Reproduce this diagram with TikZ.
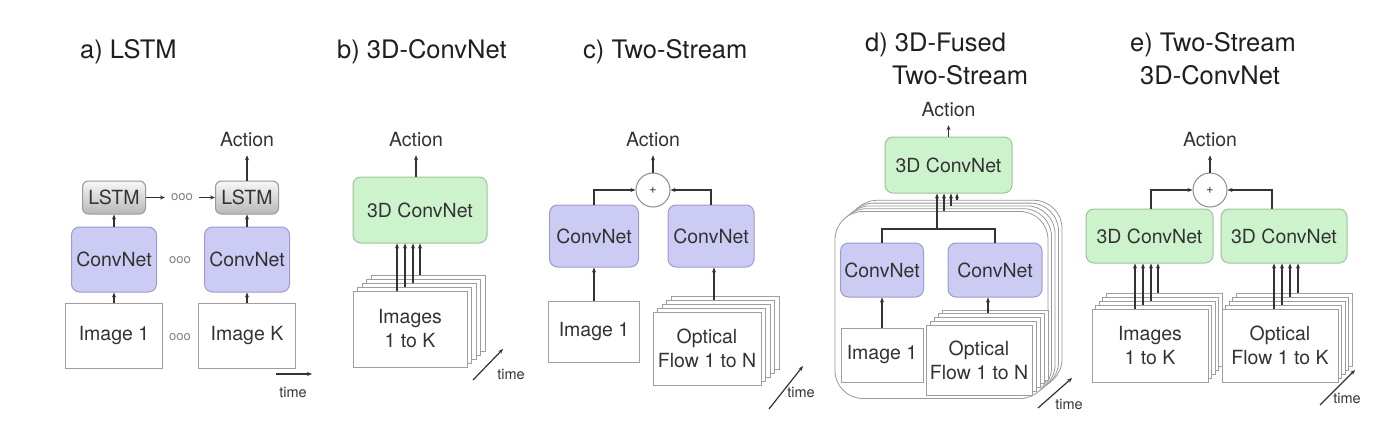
\documentclass[tikz,border=0pt]{standalone}
\usepackage{fontspec}
\setmainfont{TeX Gyre Heros}
\usepackage{xcolor}
\usepackage{tikz}
\usetikzlibrary{arrows.meta, calc}

\definecolor{cnnfill}{HTML}{CBCBF4}
\definecolor{cnnline}{HTML}{9C9CCC}
\definecolor{dfill}{HTML}{CDF3CD}
\definecolor{dline}{HTML}{9CC29C}
\definecolor{ink}{HTML}{333333}

\begin{document}
\begin{tikzpicture}[
      x = 1pt, y = -1pt,
      txt/.style     = {font = \fontsize{19.5}{24}\selectfont, text = ink, align = center},
      cnn/.style     = {txt, draw = cnnline, fill = cnnfill, rounded corners = 8pt, line width = 1pt, inner sep = 0pt},
      net3d/.style   = {txt, draw = dline, fill = dfill, rounded corners = 8pt, line width = 1pt, inner sep = 0pt},
      lstmbox/.style = {txt, draw = black!40, top color = black!3, bottom color = black!28, rounded corners = 6pt, line width = 1pt, inner sep = 0pt},
      page/.style    = {txt, draw = black!38, fill = white, line width = 1pt, inner sep = 0pt},
      bigpage/.style = {draw = black!40, fill = white, line width = .8pt, rounded corners = 28pt, inner sep = 0pt},
      plus/.style    = {circle, draw = black!45, fill = white, line width = 1pt, minimum size = 34pt, inner sep = 0pt, font = \fontsize{13}{13}\selectfont, text = ink},
      arr/.style     = {-{Stealth[length = 5pt, width = 4pt]}, line width = 1.2pt, draw = ink},
      link/.style    = {line width = 1.2pt, draw = ink},
      act/.style     = {font = \fontsize{19.5}{23}\selectfont, text = ink, inner sep = 1pt, outer ysep = 7pt},
      dots/.style    = {font = \fontsize{13}{13}\selectfont, text = black!50, inner xsep = 6pt},
      tlabel/.style  = {font = \fontsize{14.5}{17}\selectfont, text = ink, inner sep = 0pt},
      title/.style   = {font = \fontsize{25.5}{30}\selectfont, text = black!88, anchor = west, inner sep = 0pt}
    ]
  \useasboundingbox (0,0) rectangle (1393,432);

  % ---------- (a) LSTM ---------------------------------------------------
  \node[title] (ttla) at (80,52) {a) LSTM};

  \node[lstmbox, minimum width = 63pt, minimum height = 33pt] (lstm1) at (114,197.5) {LSTM};
  \node[lstmbox, minimum width = 63pt, minimum height = 33pt] (lstm2) at (247,197.5) {LSTM};
  \node[dots] (adots1) at (182,197.5) {ooo};
  \node[cnn, minimum width = 85pt, minimum height = 65pt] (acn1) at (114,259.5) {ConvNet};
  \node[cnn, minimum width = 85pt, minimum height = 65pt] (acn2) at (247,259.5) {ConvNet};
  \node[dots] (adots2) at (180,260) {ooo};
  \node[page, minimum width = 97pt, minimum height = 65pt] (aimg1) at (114,335.5) {Image 1};
  \node[page, minimum width = 97pt, minimum height = 65pt] (aimgk) at (247,335.5) {Image K};
  \node[dots] (adots3) at (180,337) {ooo};
  \node[act] (aact) at (247,140) {Action};

  \draw[arr] (aimg1) -- (acn1);
  \draw[arr] (acn1) -- (lstm1);
  \draw[arr] (aimgk) -- (acn2);
  \draw[arr] (acn2) -- (lstm2);
  \draw[arr] (lstm1) -- (adots1);
  \draw[arr] (adots1) -- (lstm2);
  \draw[arr] (lstm2) -- (aact);

  \coordinate (at0) at (276,374);
  \coordinate (at1) at (312,374);
  \draw[arr] (at0) -- (at1);
  \node[tlabel] (atime) at (293,392) {time};

  % ---------- (b) 3D-ConvNet ---------------------------------------------
  \node[title] (ttlb) at (337,52) {b) 3D-ConvNet};

  \node[net3d, minimum width = 134pt, minimum height = 66pt] (bnet) at (420,210) {3D ConvNet};
  \node[act] (bact) at (416,140) {Action};
  \draw[arr] (bact |- bnet.north) -- (bact);

  \foreach \k in {4,...,1}
    \node[page, minimum width = 114pt, minimum height = 76pt] (bimg\k) at ({410+4.5*\k},{329-4*\k}) {};
  \node[page, minimum width = 114pt, minimum height = 76pt] (bimg0) at (410,329) {Images\\1 to K};

  \foreach \s/\dx in {0/-23, 1/-15, 2/-7, 4/0}
    \draw[arr] ($(bnet.south |- bimg\s.north) + (\dx,0)$) -- ($(bnet.south) + (\dx,0)$);

  \coordinate (bt0) at (473,380);
  \coordinate (bt1) at (503,349);
  \draw[arr] (bt0) -- (bt1);
  \node[tlabel] (btime) at (511,374) {time};

  % ---------- (c) Two-Stream ---------------------------------------------
  \node[title] (ttlc) at (583,52) {c) Two-Stream};

  \node[plus] (cplus) at (653,190) {+};
  \node[act] (cact) at (653,140) {Action};
  \draw[arr] (cplus) -- (cact);

  \node[cnn, minimum width = 89pt, minimum height = 62pt] (ccn1) at (594,236) {ConvNet};
  \node[cnn, minimum width = 86pt, minimum height = 62pt] (ccn2) at (711,236) {ConvNet};
  \draw[arr] (ccn1.north) |- (cplus);
  \draw[arr] (ccn2.north) |- (cplus);

  \node[page, minimum width = 91pt, minimum height = 61pt] (cimg) at (594,331.5) {Image 1};
  \foreach \k in {4,...,1}
    \node[page, minimum width = 108pt, minimum height = 73pt] (cof\k) at ({707+4.5*\k},{348.5-4*\k}) {};
  \node[page, minimum width = 108pt, minimum height = 73pt] (cof0) at (707,348.5) {Optical\\Flow 1 to N};

  \draw[arr] (cimg) -- (ccn1);
  \draw[arr] ($(ccn2.south |- cof3.north)+(3,0)$) -- ($(ccn2.south)+(3,0)$);

  \coordinate (ct0) at (769,409);
  \coordinate (ct1) at (803,366);
  \draw[arr] (ct0) -- (ct1);
  \node[tlabel] (ctime) at (801,392) {time};

  % ---------- (d) 3D-Fused Two-Stream ------------------------------------
  \node[title] (ttld1) at (865,45) {d) 3D-Fused};
  \node[title] (ttld2) at (892,75) {Two-Stream};

  \foreach \k in {4,...,1}
    \node[bigpage, minimum width = 213pt, minimum height = 187pt] (dbig\k) at ({941.5+3.5*\k},{305-2.8*\k}) {};
  \node[bigpage, minimum width = 213pt, minimum height = 187pt] (dbig0) at (941.5,305) {};

  \node[net3d, minimum width = 127pt, minimum height = 56pt] (dnet) at (948.5,165) {3D ConvNet};
  \node[act] (dact) at (948.5,110) {Action};
  \draw[arr] (dnet) -- (dact);

  \node[cnn, minimum width = 83pt, minimum height = 54pt] (dcn1) at (882,270) {ConvNet};
  \node[cnn, minimum width = 94pt, minimum height = 54pt] (dcn2) at (995,270) {ConvNet};
  \node[page, minimum width = 82pt, minimum height = 54pt] (dimg) at (882,355) {Image 1};
  \foreach \k in {4,...,1}
    \node[page, minimum width = 106pt, minimum height = 70pt] (dof\k) at ({979+4*\k},{360-3.7*\k}) {};
  \node[page, minimum width = 106pt, minimum height = 70pt] (dof0) at (979,360) {Optical\\Flow 1 to N};

  \draw[arr] (dimg) -- (dcn1);
  \draw[arr] ($(dcn2.south |- dof3.north)+(-7,0)$) -- ($(dcn2.south)+(-7,0)$);

  \coordinate (dmid) at (937,229);
  \draw[link] (dcn1.north) |- (dmid) -| (dcn2.north);
  \draw[arr] (dmid) -- (dnet.south -| dmid);
  \foreach \s/\dx in {0/-4.5, 2/2.5, 4/8.5}
    \draw[arr] ($(dnet.south |- dbig\s.north) + (\dx,0)$) -- ($(dnet.south) + (\dx,0)$);

  \coordinate (dt0) at (1038,408);
  \coordinate (dt1) at (1072,378);
  \draw[arr] (dt0) -- (dt1);
  \node[tlabel] (dtime) at (1069,404) {time};

  % ---------- (e) Two-Stream 3D-ConvNet ----------------------------------
  \node[title] (ttle1) at (1130,45) {e) Two-Stream};
  \node[title] (ttle2) at (1140,75) {3D-ConvNet};

  \node[plus] (eplus) at (1210,190) {+};
  \node[act] (eact) at (1210,140) {Action};
  \draw[arr] (eplus) -- (eact);

  \node[net3d, minimum width = 127pt, minimum height = 54pt] (ecn1) at (1149.5,236) {3D ConvNet};
  \node[net3d, minimum width = 126pt, minimum height = 54pt] (ecn2) at (1284,236) {3D ConvNet};
  \draw[arr] ($(ecn1.north)+(1.5,0)$) |- (eplus);
  \draw[arr] ($(ecn2.north)+(-12,0)$) |- (eplus);

  \foreach \k in {4,...,1}
    \node[page, minimum width = 116pt, minimum height = 73pt] (eimg\k) at ({1150+3.5*\k},{345.5-4*\k}) {};
  \node[page, minimum width = 116pt, minimum height = 73pt] (eimg0) at (1150,345.5) {Images\\1 to K};
  \foreach \k in {4,...,1}
    \node[page, minimum width = 116pt, minimum height = 73pt] (eof\k) at ({1280+3.5*\k},{345.5-4*\k}) {};
  \node[page, minimum width = 116pt, minimum height = 73pt] (eof0) at (1280,345.5) {Optical\\Flow 1 to K};

  \foreach \s/\dx in {0/-14.5, 1/-6.5, 2/1.5, 4/8.5}
    \draw[arr] ($(ecn1.south |- eimg\s.north) + (\dx,0)$) -- ($(ecn1.south) + (\dx,0)$);
  \foreach \s/\dx in {0/-10, 1/-2, 3/6, 4/14}
    \draw[arr] ($(ecn2.south |- eof\s.north) + (\dx,0)$) -- ($(ecn2.south) + (\dx,0)$);

  \coordinate (et0) at (1320,405);
  \coordinate (et1) at (1355,370);
  \draw[arr] (et0) -- (et1);
  \node[tlabel] (etime) at (1347,398) {time};

\end{tikzpicture}
\end{document}
